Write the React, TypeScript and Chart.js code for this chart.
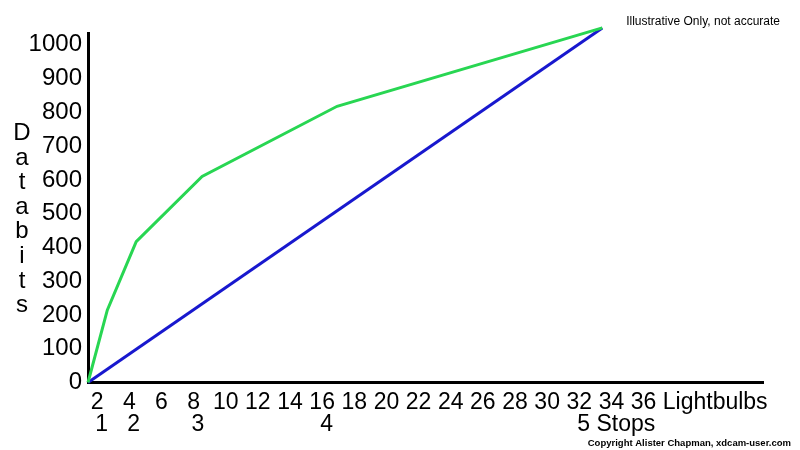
import React, { useEffect, useRef } from "react";
import { Chart, registerables } from "chart.js";

Chart.register(...registerables);

// ---- data ----
const xTickValues = [2, 4, 6, 8, 10, 12, 14, 16, 18, 20, 22, 24, 26, 28, 30, 32, 34, 36];
const stopTickValues = [2, 4, 8, 16, 32];
const stopLabels = ["1", "2", "3", "4", "5 Stops"];
const yTickValues = [0, 100, 200, 300, 400, 500, 600, 700, 800, 900, 1000];

const greenX = [0, 1.2, 3.0, 7.1, 15.5, 32];
const greenY = [0, 214, 417, 610, 818, 1050];
const blueX = [0, 32];
const blueY = [0, 1050];

const yTitleLetters = ["D", "a", "t", "a", "b", "i", "t", "s"];
const xTitle = "Lightbulbs";
const noteText = "Illustrative Only, not accurate";
const copyrightText = "Copyright Alister Chapman, xdcam-user.com";

const GREEN = "rgb(40, 214, 82)";
const BLUE = "rgb(24, 24, 206)";
const X_LABEL_OFFSET = -23;
const FONT = "'Liberation Sans', Arial, sans-serif";

const textPlugin = {
  id: "extraText",
  afterDraw(chart: any) {
    const ctx = chart.ctx;
    const xs = chart.scales.x;
    const ca = chart.chartArea;
    ctx.save();
    ctx.fillStyle = "#000";
    // vertical stacked y title
    ctx.font = `24px ${FONT}`;
    ctx.textAlign = "center";
    ctx.textBaseline = "alphabetic";
    yTitleLetters.forEach((ch, i) => {
      ctx.fillText(ch, 22, 140 + i * 24.6);
    });
    // x title inline after last tick
    ctx.font = `23px ${FONT}`;
    const last = xTickValues[xTickValues.length - 1];
    const lastStr = String(last);
    const px =
      xs.getPixelForValue(last) +
      X_LABEL_OFFSET +
      ctx.measureText(lastStr).width / 2 +
      ctx.measureText(" ").width;
    ctx.textAlign = "left";
    ctx.textBaseline = "middle";
    ctx.fillText(xTitle, px, ca.bottom + 20);
    // note
    ctx.font = `12px ${FONT}`;
    ctx.textAlign = "right";
    ctx.textBaseline = "middle";
    ctx.fillText(noteText, 780, 22);
    // copyright
    ctx.font = `bold 9.5px ${FONT}`;
    ctx.textAlign = "right";
    ctx.fillText(copyrightText, 791, 443);
    ctx.restore();
  },
};

export default function App() {
  const ref = useRef<HTMLCanvasElement | null>(null);

  useEffect(() => {
    if (!ref.current) return;
    const chart = new Chart(ref.current, {
      type: "line",
      data: {
        datasets: [
          {
            label: "green",
            data: greenX.map((x, i) => ({ x, y: greenY[i] })),
            borderColor: GREEN,
            borderWidth: 3,
            pointRadius: 0,
            tension: 0,
            clip: false as any,
            xAxisID: "x",
          },
          {
            label: "blue",
            data: blueX.map((x, i) => ({ x, y: blueY[i] })),
            borderColor: BLUE,
            borderWidth: 3,
            pointRadius: 0,
            tension: 0,
            clip: false as any,
            xAxisID: "x",
          },
        ],
      },
      options: {
        animation: false,
        responsive: false,
        devicePixelRatio: 1,
        layout: { padding: { top: 33, right: 37, bottom: 0, left: 0 } },
        plugins: {
          legend: { display: false },
          tooltip: { enabled: false },
          title: { display: false },
        },
        scales: {
          x: {
            type: "linear",
            position: "bottom",
            weight: 0,
            min: 0,
            max: 42,
            grid: { display: false, drawTicks: false },
            border: { display: true, color: "#000", width: 3 },
            afterBuildTicks: (scale: any) => {
              scale.ticks = xTickValues.map((v) => ({ value: v }));
            },
            afterFit: (scale: any) => {
              scale.height = 30;
            },
            ticks: {
              autoSkip: false,
              maxRotation: 0,
              minRotation: 0,
              padding: 9,
              labelOffset: X_LABEL_OFFSET,
              color: "#000",
              font: { family: FONT, size: 23, lineHeight: 1 },
              callback: (value: any) => String(value),
            },
          },
          x2: {
            type: "linear",
            position: "bottom",
            weight: 1,
            min: 0,
            max: 42,
            grid: { display: false, drawTicks: false },
            border: { display: false },
            afterBuildTicks: (scale: any) => {
              scale.ticks = stopTickValues.map((v) => ({ value: v }));
            },
            afterFit: (scale: any) => {
              scale.height = 37.5;
            },
            ticks: {
              autoSkip: false,
              maxRotation: 0,
              minRotation: 0,
              padding: 1,
              align: "start",
              labelOffset: -25,
              color: "#000",
              font: { family: FONT, size: 23, lineHeight: 1 },
              callback: (value: any) => {
                const idx = stopTickValues.indexOf(Number(value));
                return idx >= 0 ? stopLabels[idx] : "";
              },
            },
          },
          y: {
            type: "linear",
            position: "left",
            min: 0,
            max: 1035,
            grid: { display: false, drawTicks: false },
            border: { display: true, color: "#000", width: 3 },
            afterBuildTicks: (scale: any) => {
              scale.ticks = yTickValues.map((v) => ({ value: v }));
            },
            afterFit: (scale: any) => {
              scale.width = 88;
            },
            ticks: {
              autoSkip: false,
              padding: 6,
              color: "#000",
              font: { family: FONT, size: 24 },
              callback: (value: any) => String(value),
            },
          },
        },
      },
      plugins: [textPlugin],
    });
    return () => chart.destroy();
  }, []);

  return (
    <div style={{ position: "absolute", left: 0, top: 0, width: 800, height: 450, background: "#fff" }}>
      <canvas ref={ref} width={800} height={450} />
    </div>
  );
}
